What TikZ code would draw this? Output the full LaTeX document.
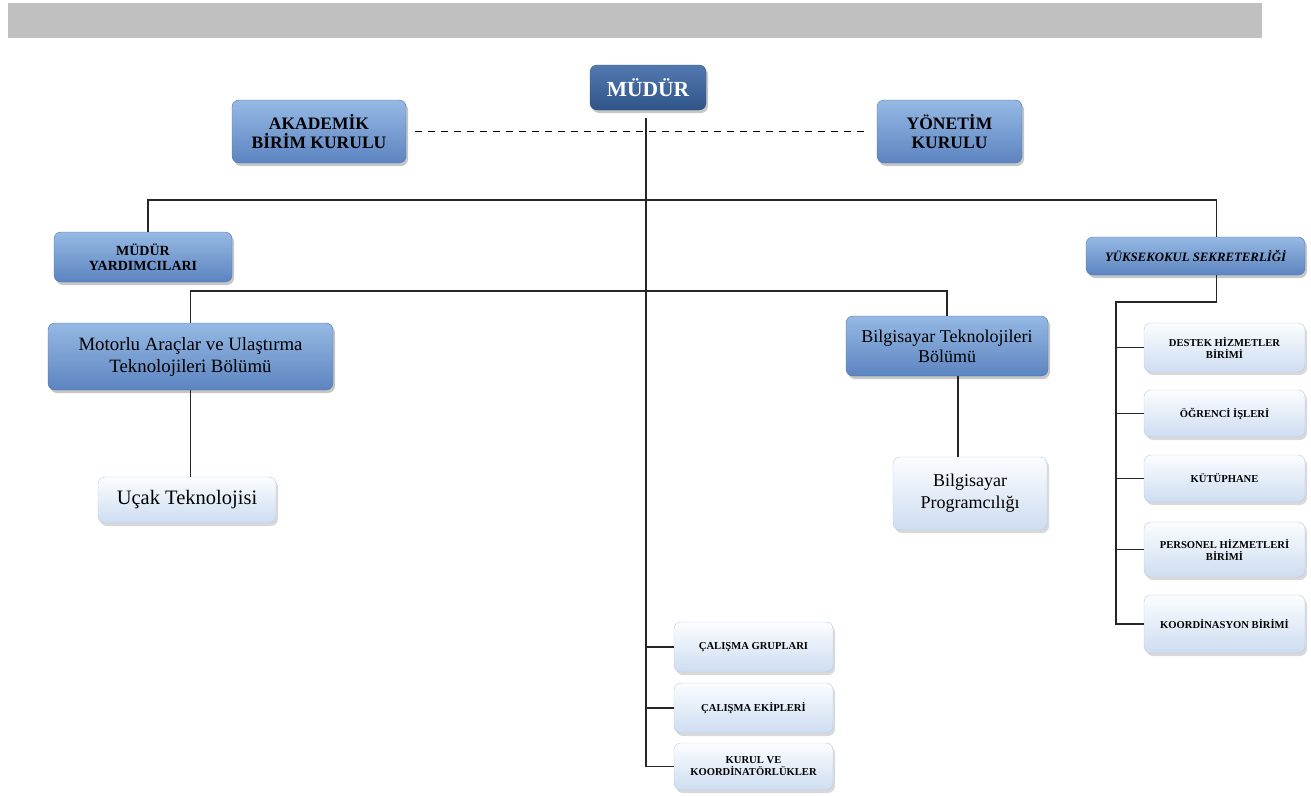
\documentclass[tikz,border=0pt]{standalone}
\usepackage{fontspec}
\setmainfont{Liberation Serif}
\usepackage{tikz}
\usetikzlibrary{shadows}
\definecolor{bargray}{RGB}{192,192,192}
\definecolor{darkA}{RGB}{82,121,176}
\definecolor{darkB}{RGB}{48,84,136}
\definecolor{midA}{RGB}{150,185,228}
\definecolor{midB}{RGB}{92,132,192}
\definecolor{midLine}{RGB}{78,116,172}
\definecolor{lightA}{RGB}{252,253,255}
\definecolor{lightB}{RGB}{205,221,241}
\definecolor{lightLine}{RGB}{182,202,230}

\begin{document}
\begin{tikzpicture}[x=1pt,y=-1pt,
    darkbox/.style={rounded corners=7pt, top color=darkA, bottom color=darkB, draw=darkB,
      drop shadow={shadow xshift=2pt, shadow yshift=-3pt, opacity=.45}, text=white,
      align=center, inner sep=0pt, font=\bfseries\fontsize{21.5}{23}\selectfont},
    midbox/.style={rounded corners=7pt, top color=midA, bottom color=midB, draw=midLine,
      drop shadow={shadow xshift=2pt, shadow yshift=-3pt, opacity=.45},
      align=center, inner sep=0pt},
    lightbox/.style={rounded corners=7pt, top color=lightA, bottom color=lightB, draw=lightLine,
      drop shadow={shadow xshift=2pt, shadow yshift=-3pt, opacity=.3},
      align=center, inner sep=0pt},
    small/.style={font=\bfseries\fontsize{10.6}{12}\selectfont},
    link/.style={draw=black!85, line width=1.1pt}]
    \useasboundingbox (0,0) rectangle (1311,795);
    \fill[bargray] (8,3) rectangle (1262,38);

    \def\rw{161}
    \def\bw{159}
    \node[darkbox, minimum width=116pt, minimum height=45pt] (mudur) at (648,87.5) {MÜDÜR};
    \node[midbox, minimum width=174pt, minimum height=63pt, font=\bfseries\fontsize{17.5}{18.5}\selectfont]
      (akademik) at (319,131.5) {AKADEMİK\\BİRİM KURULU};
    \node[midbox, minimum width=145pt, minimum height=63pt, font=\bfseries\fontsize{17.5}{18.5}\selectfont]
      (yonetim) at (949.5,131.5) {YÖNETİM\\KURULU};
    \node[midbox, minimum width=178pt, minimum height=50pt, font=\bfseries\fontsize{14}{15}\selectfont]
      (yardimci) at (143,257) {MÜDÜR\\YARDIMCILARI};
    \node[midbox, minimum width=219pt, minimum height=38pt, font=\bfseries\itshape\fontsize{12.8}{14}\selectfont]
      (yuksek) at (1195.5,256) {YÜKSEKOKUL SEKRETERLİĞİ};
    \node[midbox, minimum width=285pt, minimum height=67pt, font=\fontsize{18.8}{22}\selectfont]
      (motorlu) at (190.5,356.5) {Motorlu Araçlar ve Ulaştırma\\Teknolojileri Bölümü};
    \node[midbox, minimum width=202pt, minimum height=60pt, font=\fontsize{18}{20}\selectfont]
      (bilgtek) at (947,346) {Bilgisayar Teknolojileri\\Bölümü};
    \node[lightbox, minimum width=178pt, minimum height=46pt, font=\fontsize{20.5}{22}\selectfont]
      (ucak) at (187,500) {Uçak Teknolojisi};
    \node[lightbox, minimum width=154pt, minimum height=73pt, font=\fontsize{18}{22}\selectfont]
      (prog) at (970,493.5) {Bilgisayar\\Programcılığı};

    \node[lightbox, small, minimum width=\rw pt, minimum height=49pt] (destek) at (1224.5,347.5) {DESTEK HİZMETLER\\BİRİMİ};
    \node[lightbox, small, minimum width=\rw pt, minimum height=47pt] (ogrenci) at (1224.5,413.5) {ÖĞRENCİ İŞLERİ};
    \node[lightbox, small, minimum width=\rw pt, minimum height=47pt] (kutup) at (1224.5,478.5) {KÜTÜPHANE};
    \node[lightbox, small, minimum width=\rw pt, minimum height=55pt] (personel) at (1224.5,549.5) {PERSONEL HİZMETLERİ\\BİRİMİ};
    \node[lightbox, small, minimum width=\rw pt, minimum height=58pt] (koord) at (1224.5,624) {KOORDİNASYON BİRİMİ};

    \node[lightbox, small, minimum width=\bw pt, minimum height=50pt] (grup) at (753.5,647) {ÇALIŞMA GRUPLARI};
    \node[lightbox, small, minimum width=\bw pt, minimum height=50pt] (ekip) at (753.5,708) {ÇALIŞMA EKİPLERİ};
    \node[lightbox, small, minimum width=\bw pt, minimum height=47pt] (kurul) at (753.5,766.5) {KURUL VE\\KOORDİNATÖRLÜKLER};

    \coordinate (bus1) at (0,200);
    \coordinate (bus2) at (0,291);
    \coordinate (rspine) at (1116,302);
    \coordinate (mtop) at ([xshift=-2pt,yshift=-8pt]mudur.south);
    \coordinate (ytop) at ([xshift=21pt]yuksek.north);
    \coordinate (ybot) at ([xshift=21pt]yuksek.south);

    \draw[dashed, line width=1.3pt, dash pattern=on 7pt off 6pt]
      ([xshift=9pt]akademik.east) -- ([xshift=-9pt]yonetim.west);
    \draw[link] (mtop) -- (mtop |- kurul.west) -- (kurul.west);
    \draw[link] (mtop |- grup.west) -- (grup.west);
    \draw[link] (mtop |- ekip.west) -- (ekip.west);
    \draw[link] ([xshift=5pt]yardimci.north) |- (bus1 -| ytop) -- (ytop);
    \draw[link] (motorlu.north) |- (bus2 -| bilgtek.north) -- (bilgtek.north);
    \draw[link] (motorlu.south) -- (motorlu.south |- ucak.north);
    \draw[link] ([xshift=11pt]bilgtek.south) -- ([xshift=11pt]bilgtek.south |- prog.north);
    \draw[link] (ybot) |- (rspine) -- (rspine |- koord.west) -- (koord.west);
    \foreach \n in {destek,ogrenci,kutup,personel}
      \draw[link] (rspine |- \n.west) -- (\n.west);
  \end{tikzpicture}
\end{document}
